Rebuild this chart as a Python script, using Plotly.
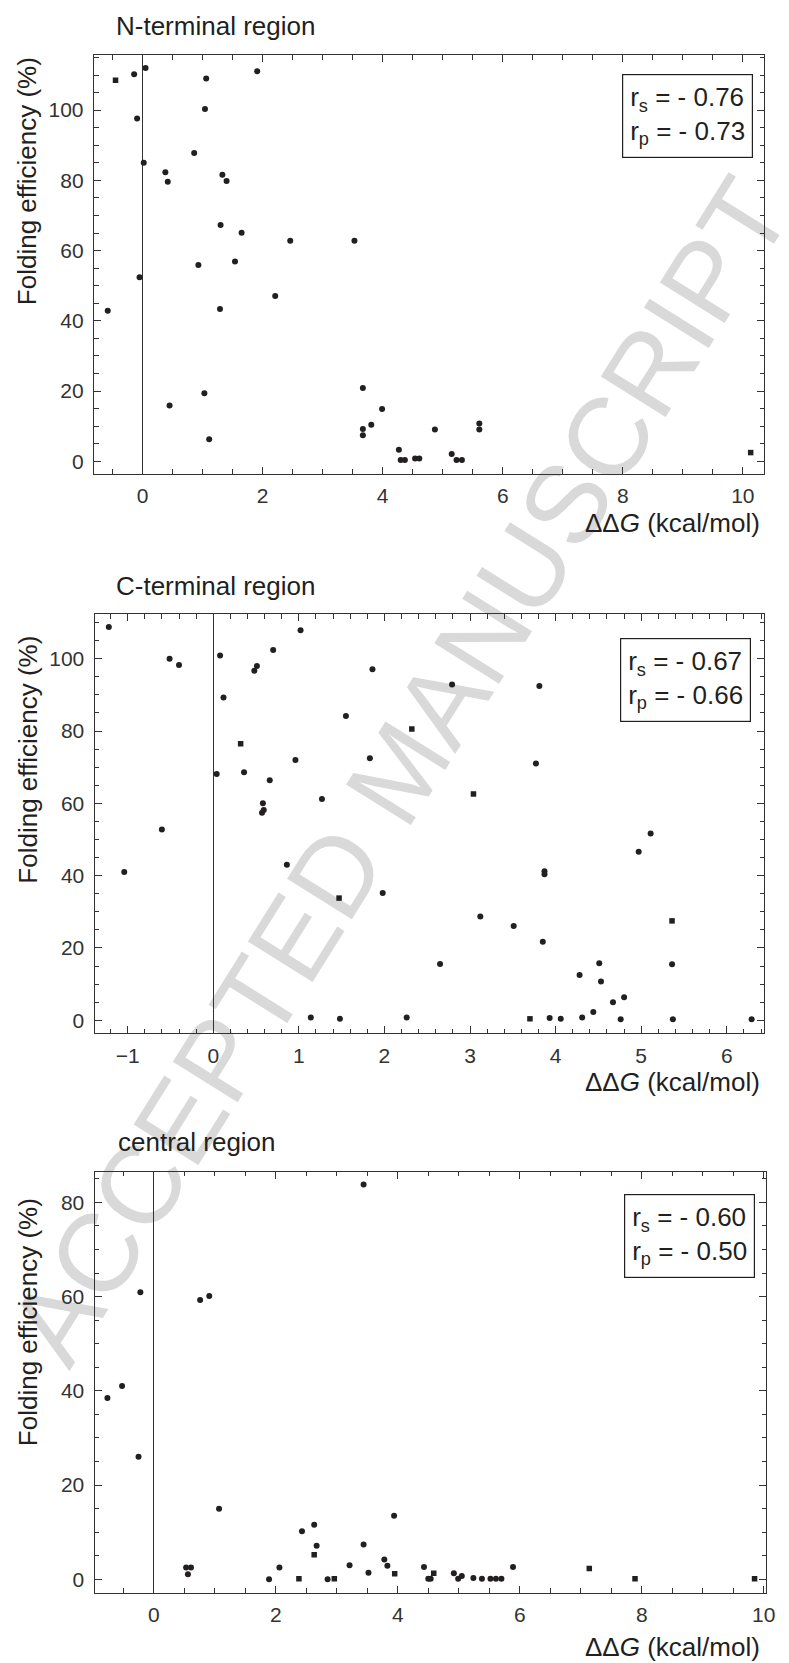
import plotly.graph_objects as go

# ---------------- data ----------------
# N-terminal region
nterm_circ_x = [-0.14, 0.05, 1.91, 1.06, 1.04, -0.09, 0.86, 0.02, 0.38, 0.42, 1.33, 1.40, 1.30, 1.65,
                2.46, 3.53, 0.93, 1.54, -0.05, -0.58, 1.29, 2.21, 3.67, 1.03, 0.45, 3.99, 3.81, 3.67,
                3.67, 1.11, 4.27, 4.30, 4.37, 4.54, 4.61, 4.87, 5.15, 5.23, 5.32, 5.61, 5.61]
nterm_circ_y = [110.2, 112.0, 111.1, 109.0, 100.3, 97.6, 87.8, 85.0, 82.3, 79.6, 81.6, 79.8, 67.3, 65.1,
                62.8, 62.8, 55.9, 56.9, 52.4, 42.9, 43.4, 47.1, 20.9, 19.4, 15.9, 14.9, 10.4, 9.2,
                7.4, 6.3, 3.3, 0.4, 0.4, 0.8, 0.8, 9.1, 2.1, 0.4, 0.4, 10.8, 9.1]
nterm_sq_x = [-0.45, 10.13]
nterm_sq_y = [108.5, 2.5]

# C-terminal region
cterm_circ_x = [-1.22, -0.51, -0.40, 0.08, 1.02, 0.70, 0.51, 0.48, 0.12, 1.55, 1.86, 0.96, 1.83, 0.04,
                0.36, 0.66, 1.27, 0.58, 0.59, 0.57, 2.79, 3.81, 3.77, -0.60, -1.04, 0.86, 1.98, 1.14,
                1.48, 5.11, 4.97, 3.87, 3.87, 3.12, 3.51, 3.85, 2.65, 4.51, 5.36, 4.28, 4.53, 4.80,
                4.67, 4.44, 2.26, 3.93, 4.06, 4.31, 4.76, 5.37, 6.29]
cterm_circ_y = [108.8, 100.0, 98.3, 100.9, 107.9, 102.4, 98.0, 96.7, 89.3, 84.2, 97.1, 72.0, 72.5, 68.1,
                68.6, 66.4, 61.2, 60.0, 58.2, 57.4, 92.9, 92.5, 71.0, 52.8, 41.0, 43.0, 35.2, 0.8,
                0.4, 51.7, 46.6, 41.2, 40.4, 28.7, 26.1, 21.7, 15.6, 15.8, 15.5, 12.5, 10.7, 6.4,
                5.0, 2.3, 0.8, 0.6, 0.4, 0.8, 0.3, 0.3, 0.3]
cterm_sq_x = [0.32, 2.32, 3.04, 1.47, 5.36, 3.70]
cterm_sq_y = [76.5, 80.6, 62.6, 33.8, 27.5, 0.4]

# central region
central_circ_x = [3.44, -0.22, 0.76, 0.91, -0.52, -0.76, -0.25, 1.07, 0.53, 0.61, 0.56, 1.89, 2.06, 2.43,
                  2.63, 2.67, 2.85, 3.21, 3.44, 3.52, 3.78, 3.83, 3.94, 4.43, 4.50, 4.54, 4.92, 4.99,
                  5.05, 5.24, 5.38, 5.52, 5.61, 5.70, 5.89]
central_circ_y = [83.8, 60.9, 59.3, 60.1, 41.0, 38.5, 26.0, 15.0, 2.5, 2.5, 1.1, 0.0, 2.5, 10.2,
                  11.6, 7.1, 0.0, 3.0, 7.4, 1.4, 4.2, 2.9, 13.5, 2.6, 0.1, 0.1, 1.3, 0.1,
                  0.7, 0.3, 0.1, 0.1, 0.1, 0.1, 2.6]
central_sq_x = [2.38, 2.63, 2.96, 3.95, 4.59, 7.14, 7.89, 9.85]
central_sq_y = [0.1, 5.2, 0.1, 1.2, 1.3, 2.3, 0.1, 0.1]

panel_titles = ["N-terminal region", "C-terminal region", "central region"]
corr_s = ["- 0.76", "- 0.67", "- 0.60"]
corr_p = ["- 0.73", "- 0.66", "- 0.50"]
y_label = "Folding efficiency (%)"
x_label = "ΔΔ<i>G</i> (kcal/mol)"
watermark = "ACCEPTED MANUSCRIPT"

# ---------------- layout helpers ----------------
W, H = 789, 1663
FONT = "Liberation Sans, Arial, Helvetica, sans-serif"
INK = "#231f20"
AX = "#333333"

def px_x(p):
    return p / W

def px_y(p):
    return 1 - p / H

panels = [
    dict(xr=[-0.81, 10.36], yr=[-3.6, 115.7], top=55, bot=474, left=95, right=773.3,
         xd=2, xminor=0.5, yd=20, yminor=5),
    dict(xr=[-1.386, 6.44], yr=[-3.6, 112.3], top=614.3, bot=1033.3, left=95.7, right=773.3,
         xd=1, xminor=0.2, yd=20, yminor=5),
    dict(xr=[-0.97, 10.04], yr=[-2.84, 86.5], top=1171.7, bot=1592.7, left=95.7, right=775,
         xd=2, xminor=0.5, yd=20, yminor=5),
]

circ = [(nterm_circ_x, nterm_circ_y), (cterm_circ_x, cterm_circ_y), (central_circ_x, central_circ_y)]
sq = [(nterm_sq_x, nterm_sq_y), (cterm_sq_x, cterm_sq_y), (central_sq_x, central_sq_y)]

fig = go.Figure()
layout = dict(
    width=W, height=H,
    margin=dict(l=0, r=0, t=0, b=0),
    paper_bgcolor="white",
    plot_bgcolor="rgba(0,0,0,0)",
    showlegend=False,
    font=dict(family=FONT, color=INK),
)

annotations = []
for i, p in enumerate(panels):
    sfx = "" if i == 0 else str(i + 1)
    xa, ya = "x" + sfx, "y" + sfx
    fig.add_trace(go.Scatter(x=circ[i][0], y=circ[i][1], mode="markers", xaxis=xa, yaxis=ya,
                             marker=dict(symbol="circle", size=6, color=INK)))
    fig.add_trace(go.Scatter(x=sq[i][0], y=sq[i][1], mode="markers", xaxis=xa, yaxis=ya,
                             marker=dict(symbol="square", size=5.5, color=INK)))
    common = dict(showline=True, linecolor=AX, linewidth=1.3, mirror="ticks", ticks="inside",
                  ticklen=7, tickwidth=1, tickcolor=AX, showgrid=False,
                  tickfont=dict(family=FONT, size=21, color="#333333"))
    layout["xaxis" + sfx] = dict(
        common, range=p["xr"], domain=[px_x(p["left"]), px_x(p["right"])], anchor=ya,
        dtick=p["xd"], tick0=0, zeroline=True, zerolinecolor=AX, zerolinewidth=1.1,
        minor=dict(ticks="inside", ticklen=4.5, tickcolor=AX, dtick=p["xminor"], tick0=0, showgrid=False),
        ticklabelstandoff=3,
    )
    layout["yaxis" + sfx] = dict(
        common, range=p["yr"], domain=[px_y(p["bot"]), px_y(p["top"])], anchor=xa,
        dtick=p["yd"], tick0=0, zeroline=False,
        minor=dict(ticks="inside", ticklen=4.5, tickcolor=AX, dtick=p["yminor"], tick0=0, showgrid=False),
        ticklabelstandoff=5,
    )

title_pos = [(115, 26), (115, 586), (117, 1142)]
ylab_pos = [181.5, 760, 1322.5]
xlab_pos = [523, 1082, 1647]
box_pos = [(762, 74), (760, 638), (764, 1194)]

for i in range(3):
    annotations.append(dict(text=panel_titles[i], xref="paper", yref="paper",
                            x=px_x(title_pos[i][0]), y=px_y(title_pos[i][1]),
                            xanchor="left", yanchor="middle", showarrow=False,
                            font=dict(family=FONT, size=26, color=INK)))
    annotations.append(dict(text=y_label, xref="paper", yref="paper", textangle=-90,
                            x=px_x(28), y=px_y(ylab_pos[i]), xanchor="center", yanchor="middle",
                            showarrow=False, font=dict(family=FONT, size=26, color=INK)))
    annotations.append(dict(text=x_label, xref="paper", yref="paper",
                            x=px_x(771), y=px_y(xlab_pos[i]), xanchor="right", yanchor="middle",
                            showarrow=False, font=dict(family=FONT, size=26, color=INK)))
    annotations.append(dict(text="r<sub>s</sub> = " + corr_s[i] + "<br>r<sub>p</sub> = " + corr_p[i],
                            xref="paper", yref="paper",
                            x=px_x(box_pos[i][0]), y=px_y(box_pos[i][1]),
                            xanchor="right", yanchor="top", align="left", showarrow=False,
                            bordercolor=INK, borderwidth=1.2, borderpad=7, bgcolor="white",
                            font=dict(family=FONT, size=26, color=INK)))

layout["annotations"] = annotations
# watermark, centred on the middle of an invisible line, drawn beneath the data
layout["shapes"] = [dict(type="line", xref="paper", yref="paper", layer="below",
                         x0=px_x(5), y0=px_y(1390), x1=px_x(785), y1=px_y(140),
                         line=dict(color="rgba(0,0,0,0)", width=0),
                         label=dict(text=watermark, textposition="middle", yanchor="middle",
                                    xanchor="center", textangle=-58, padding=0,
                                    font=dict(family=FONT, size=111, color="#d9d9d9")))]
fig.update_layout(**layout)
fig.write_html("out.html", config={"displayModeBar": False},
               post_script="document.body.style.margin='0';document.body.style.overflow='hidden';")
